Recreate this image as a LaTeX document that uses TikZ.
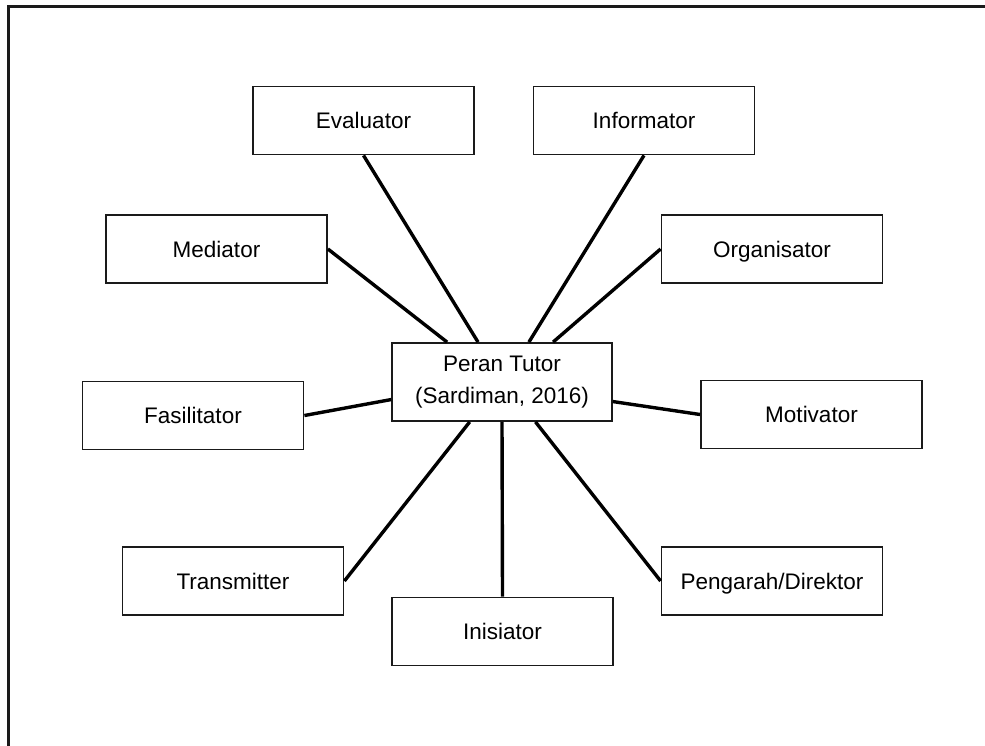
\documentclass[tikz,border=0pt]{standalone}
\usepackage{fontspec}
\setmainfont{Liberation Sans}
\usepackage{tikz}
\usetikzlibrary{positioning}
\definecolor{ink}{HTML}{1A1A1A}
\tikzset{
  boxbase/.style={draw=ink,line width=1.8pt,inner sep=0pt,align=center,font=\fontsize{22.5}{32}\selectfont},
  role/.style={boxbase,minimum width=221pt,minimum height=68pt,text height=17pt,text depth=1pt},
  hub/.style={boxbase,minimum width=220pt,minimum height=78pt},
  link/.style={draw=black,line width=3.4pt},
  frame/.style={draw=ink,line width=2.2pt}}

\begin{document}
\begin{tikzpicture}[x=1pt,y=-1pt]
  \clip (0,0) rectangle (985,745);
  \draw[frame] (8.5,760) -- (8.5,6.5) -- (1000,6.5);
  \node[hub] (pr) at (502,382) {Peran Tutor\\(Sardiman, 2016)};
  \node[role] (ev) at (363.5,120.5) {Evaluator};
  \node[role] (inf) at (644,120.5) {Informator};
  \node[role] (med) at (216.5,249) {Mediator};
  \node[role] (org) at (772,249) {Organisator};
  \node[role] (fas) at (193,415.5) {Fasilitator};
  \node[role] (mot) at (811.5,414.5) {Motivator};
  \node[role] (tra) at (233,581) {Transmitter};
  \node[role] (ini) at (502.5,631.5) {Inisiator};
  \node[role] (pen) at (772,581) {Pengarah/Direktor};
  \draw[link] (ev.south) -- (pr.121.6);
  \draw[link] (inf.south) -- (pr.56.3);
  \draw[link] (med.east) -- (pr.144.2);
  \draw[link] (org.west) -- (pr.38);
  \draw[link] (fas.east) -- (pr.189.8);
  \draw[link] (mot.west) -- (pr.350.7);
  \draw[link] (tra.east) -- (pr.231.5);
  \draw[link] (ini.north) -- (pr.south);
  \draw[link] (pen.west) -- (pr.310);
\end{tikzpicture}
\end{document}
